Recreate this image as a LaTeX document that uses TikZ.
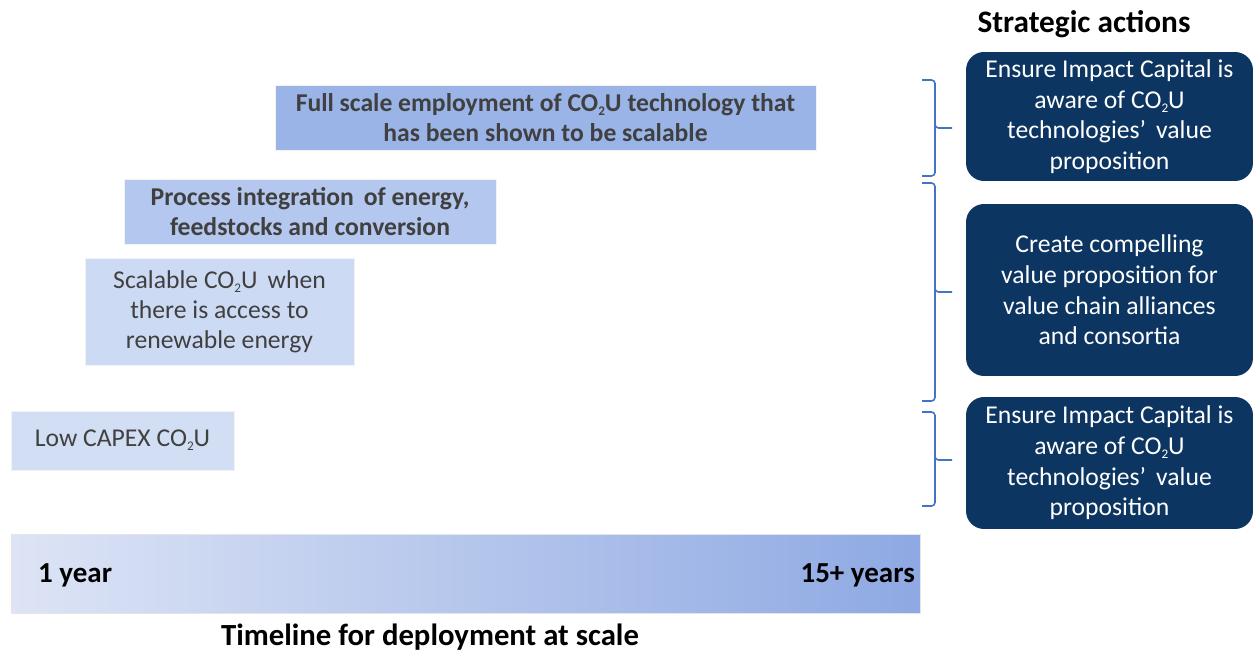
\documentclass[tikz,border=0pt]{standalone}
\usepackage{fontspec}
\setmainfont{Carlito}
\newcommand\cosub[1]{\raisebox{-0.35ex}{\fontsize{7.5}{8}\selectfont #1}}
\definecolor{txtgray}{HTML}{404040}
\definecolor{navy}{HTML}{0D3561}
\definecolor{braceblue}{HTML}{4472C4}
\definecolor{boxA}{HTML}{9AB4E8}
\definecolor{boxB}{HTML}{B4C7EE}
\definecolor{boxC}{HTML}{CDDAF3}
\definecolor{boxD}{HTML}{D2DEF3}
\definecolor{tlL}{HTML}{DDE4F5}
\definecolor{tlR}{HTML}{8EA9E3}
\begin{document}
\begin{tikzpicture}[x=0.02cm,y=-0.02cm,
  stage/.style={rectangle, inner sep=0pt, text=txtgray, align=center,
    font=\fontsize{14.6}{17}\selectfont, draw=white!90!gray, line width=0.4pt},
  action/.style={rectangle, rounded corners=0.36cm, fill=navy, text=white,
    inner sep=0pt, align=center, minimum width=5.74cm,
    font=\fontsize{14.6}{17.4}\selectfont},
  bracepath/.style={draw=braceblue, line width=0.9pt, rounded corners=2pt},
  heading/.style={font=\fontsize{16.5}{19}\selectfont\bfseries, text=black}
  ]
\useasboundingbox (0,0) rectangle (1254,651);

% stage boxes
\node[stage, fill=boxA, minimum width=10.82cm, minimum height=1.30cm, font=\fontsize{14.6}{17}\selectfont\bfseries]
  (full) at (545.5,117.5) {Full scale employment of CO\cosub{2}U technology that\\has been shown to be scalable};
\node[stage, fill=boxB, minimum width=7.44cm, minimum height=1.30cm, font=\fontsize{14.6}{17}\selectfont\bfseries]
  (proc) at (310,211.5) {Process integration\, of energy,\\feedstocks and conversion};
\node[stage, fill=boxC, minimum width=5.38cm, minimum height=2.14cm]
  (scal) at (219.5,311.5) {Scalable CO\cosub{2}U\, when\\there is access to\\renewable energy};
\node[stage, fill=boxD, minimum width=4.46cm, minimum height=1.18cm]
  (low) at (122.5,440.5) {Low CAPEX CO\cosub{2}U};

% timeline
\node[rectangle, inner sep=0pt, minimum width=18.18cm, minimum height=1.58cm,
  left color=tlL, right color=tlR, draw=gray!20, line width=0.4pt]
  (tl) at (465.5,573.5) {};
\node[anchor=west, heading] (y1) at (32,575) {1 year};
\node[anchor=east, heading] (y15) at (921,575) {15+ years};
\node[heading, font=\fontsize{17.5}{20}\selectfont\bfseries] (tltitle) at (430,637) {Timeline for deployment at scale};

% strategic actions
\node[heading, font=\fontsize{17.8}{20}\selectfont\bfseries] (sa) at (1084,24) {Strategic actions};
\node[action, minimum height=2.58cm] (actA) at (1109.5,116.5)
  {Ensure Impact Capital is\\aware of CO\cosub{2}U\\technologies'\, value\\proposition};
\node[action, minimum height=3.44cm] (actB) at (1109.5,290)
  {Create compelling\\value proposition for\\value chain alliances\\and consortia};
\node[action, minimum height=2.64cm] (actC) at (1109.5,463)
  {Ensure Impact Capital is\\aware of CO\cosub{2}U\\technologies'\, value\\proposition};

% braces
\coordinate (b1t) at (922,80);  \coordinate (b1m) at (952,128); \coordinate (b1b) at (922,176);
\coordinate (b2t) at (922,183); \coordinate (b2m) at (952,292); \coordinate (b2b) at (922,401);
\coordinate (b3t) at (922,412); \coordinate (b3m) at (952,460); \coordinate (b3b) at (922,506);
\foreach \t/\m/\b in {b1t/b1m/b1b, b2t/b2m/b2b, b3t/b3m/b3b}{
  \draw[bracepath] (\t) -| ([xshift=13*0.02cm]\m -| \t) |- (\m);
  \draw[bracepath] (\b) -| ([xshift=13*0.02cm]\m -| \b) -- ([xshift=13*0.02cm]\m -| \b);
}
\end{tikzpicture}
\end{document}
